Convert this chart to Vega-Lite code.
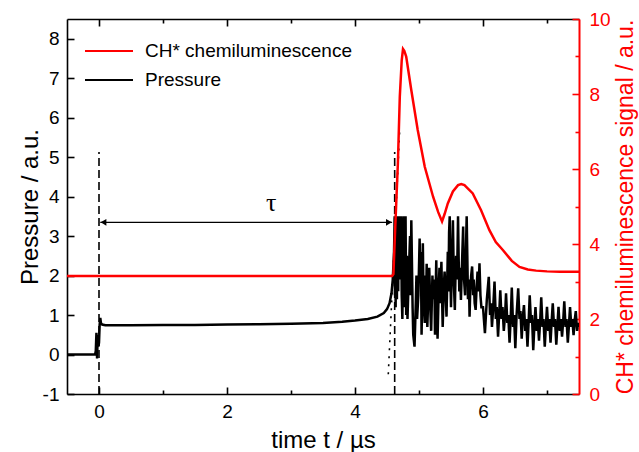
{
  "$schema": "https://vega.github.io/schema/vega-lite/v6.json",
  "width": 512,
  "height": 375,
  "autosize": {"type": "none"},
  "padding": {"left": 67, "top": 19, "right": 60, "bottom": 58},
  "background": "white",
  "config": {
    "font": "Liberation Sans",
    "view": {"stroke": null},
    "axis": {
      "labelFont": "Liberation Sans",
      "titleFont": "Liberation Sans",
      "labelFontSize": 19,
      "titleFontSize": 24,
      "titleFontWeight": "normal",
      "grid": false,
      "domainColor": "black",
      "domainWidth": 1.6,
      "labelColor": "black",
      "titleColor": "black",
      "labelFlush": false,
      "labelOverlap": false,
      "zindex": 1
    },
    "legend": {"labelFont": "Liberation Sans"}
  },
  "datasets": {
    "pressure": [
      {"t": -0.5, "p": 0}, {"t": -0.06, "p": 0}, {"t": -0.05, "p": 0.1}, {"t": -0.04, "p": 0.55}, {"t": -0.03, "p": -0.1},
      {"t": -0.02, "p": 0.5}, {"t": -0.01, "p": 0.2}, {"t": 0.0, "p": 0.3}, {"t": 0.01, "p": 0.75}, {"t": 0.02, "p": 0.93},
      {"t": 0.03, "p": 0.8}, {"t": 0.05, "p": 0.76}, {"t": 0.1, "p": 0.74}, {"t": 0.5, "p": 0.74}, {"t": 1.0, "p": 0.745},
      {"t": 1.5, "p": 0.75}, {"t": 2.0, "p": 0.76}, {"t": 2.5, "p": 0.77}, {"t": 3.0, "p": 0.78}, {"t": 3.5, "p": 0.8},
      {"t": 3.8, "p": 0.83}, {"t": 4.0, "p": 0.86}, {"t": 4.2, "p": 0.9}, {"t": 4.35, "p": 0.96}, {"t": 4.45, "p": 1.05},
      {"t": 4.5, "p": 1.15}, {"t": 4.54, "p": 1.3}, {"t": 4.57, "p": 1.55}, {"t": 4.59, "p": 1.9}, {"t": 4.61, "p": 2.6},
      {"t": 4.62, "p": 3.5}, {"t": 4.625, "p": 1.5}, {"t": 4.63, "p": 3.5}, {"t": 4.635, "p": 1.2}, {"t": 4.64, "p": 3.5},
      {"t": 4.645, "p": 1.8}, {"t": 4.65, "p": 3.5}, {"t": 4.655, "p": 1.4}, {"t": 4.66, "p": 3.5}, {"t": 4.665, "p": 2.0},
      {"t": 4.67, "p": 3.5}, {"t": 4.675, "p": 1.6}, {"t": 4.68, "p": 3.5}, {"t": 4.685, "p": 2.2}, {"t": 4.69, "p": 3.5},
      {"t": 4.695, "p": 1.9}, {"t": 4.7, "p": 3.5}, {"t": 4.705, "p": 2.5}, {"t": 4.71, "p": 3.5}, {"t": 4.715, "p": 2.1},
      {"t": 4.72, "p": 3.5}, {"t": 4.73, "p": 1.5}, {"t": 4.74, "p": 0.9}, {"t": 4.75, "p": 2.2}, {"t": 4.76, "p": 3.5},
      {"t": 4.77, "p": 2.0}, {"t": 4.78, "p": 1.2}, {"t": 4.79, "p": 3.5}, {"t": 4.8, "p": 1.0}, {"t": 4.81, "p": 2.5},
      {"t": 4.82, "p": 0.9}, {"t": 4.84, "p": 2.0}, {"t": 4.86, "p": 3.0}, {"t": 4.87, "p": 1.5}, {"t": 4.88, "p": 3.4},
      {"t": 4.9, "p": 1.2}, {"t": 4.91, "p": 0.5}, {"t": 4.93, "p": 0.2}, {"t": 4.95, "p": 1.3}, {"t": 4.96, "p": 2.0},
      {"t": 4.97, "p": 0.9}, {"t": 4.99, "p": 1.5}, {"t": 5.01, "p": 2.94}, {"t": 5.02, "p": 1.9}, {"t": 5.03, "p": 2.6},
      {"t": 5.04, "p": 0.5}, {"t": 5.05, "p": 1.4}, {"t": 5.06, "p": 2.82}, {"t": 5.07, "p": 1.5}, {"t": 5.09, "p": 0.8},
      {"t": 5.1, "p": 2.0}, {"t": 5.11, "p": 1.2}, {"t": 5.12, "p": 2.3}, {"t": 5.13, "p": 0.7}, {"t": 5.15, "p": 1.7},
      {"t": 5.16, "p": 2.2}, {"t": 5.18, "p": 1.0}, {"t": 5.19, "p": 0.6}, {"t": 5.21, "p": 2.0}, {"t": 5.22, "p": 1.4},
      {"t": 5.24, "p": 1.9}, {"t": 5.25, "p": 0.5}, {"t": 5.26, "p": 1.6}, {"t": 5.27, "p": 2.39}, {"t": 5.28, "p": 1.2},
      {"t": 5.29, "p": 0.4}, {"t": 5.31, "p": 1.8}, {"t": 5.32, "p": 2.2}, {"t": 5.33, "p": 1.3}, {"t": 5.35, "p": 2.35},
      {"t": 5.36, "p": 1.5}, {"t": 5.37, "p": 0.7}, {"t": 5.39, "p": 1.8}, {"t": 5.4, "p": 2.1}, {"t": 5.42, "p": 1.4},
      {"t": 5.43, "p": 0.96}, {"t": 5.45, "p": 2.6}, {"t": 5.46, "p": 1.6}, {"t": 5.47, "p": 3.1}, {"t": 5.48, "p": 3.5},
      {"t": 5.49, "p": 2.0}, {"t": 5.5, "p": 1.2}, {"t": 5.51, "p": 2.0}, {"t": 5.52, "p": 2.7}, {"t": 5.53, "p": 3.4},
      {"t": 5.545, "p": 1.8}, {"t": 5.56, "p": 1.13}, {"t": 5.57, "p": 2.0}, {"t": 5.58, "p": 2.5}, {"t": 5.595, "p": 1.9},
      {"t": 5.61, "p": 3.5}, {"t": 5.62, "p": 2.4}, {"t": 5.63, "p": 1.6}, {"t": 5.64, "p": 2.2}, {"t": 5.655, "p": 1.38},
      {"t": 5.67, "p": 2.2}, {"t": 5.69, "p": 3.24}, {"t": 5.7, "p": 2.0}, {"t": 5.72, "p": 1.5}, {"t": 5.73, "p": 2.4},
      {"t": 5.745, "p": 3.5}, {"t": 5.755, "p": 2.5}, {"t": 5.765, "p": 1.4}, {"t": 5.78, "p": 1.9}, {"t": 5.79, "p": 0.96},
      {"t": 5.8, "p": 1.6}, {"t": 5.815, "p": 2.0}, {"t": 5.83, "p": 2.23}, {"t": 5.845, "p": 1.5}, {"t": 5.855, "p": 1.9},
      {"t": 5.87, "p": 1.3}, {"t": 5.885, "p": 1.13}, {"t": 5.9, "p": 1.7}, {"t": 5.915, "p": 2.1}, {"t": 5.93, "p": 1.6},
      {"t": 5.945, "p": 2.31}, {"t": 5.96, "p": 1.5}, {"t": 5.975, "p": 1.2}, {"t": 6.0, "p": 1.2}, {"t": 6.03, "p": 0.54},
      {"t": 6.06, "p": 1.4}, {"t": 6.09, "p": 1.97}, {"t": 6.11, "p": 1.0}, {"t": 6.125, "p": 1.3}, {"t": 6.14, "p": 0.7},
      {"t": 6.16, "p": 1.2}, {"t": 6.18, "p": 1.85}, {"t": 6.2, "p": 0.9}, {"t": 6.215, "p": 1.2}, {"t": 6.235, "p": 0.45},
      {"t": 6.255, "p": 1.1}, {"t": 6.27, "p": 1.63}, {"t": 6.29, "p": 0.9}, {"t": 6.305, "p": 1.2}, {"t": 6.325, "p": 0.6},
      {"t": 6.345, "p": 1.0}, {"t": 6.36, "p": 1.55}, {"t": 6.38, "p": 0.8}, {"t": 6.395, "p": 1.0}, {"t": 6.415, "p": 0.3},
      {"t": 6.435, "p": 1.0}, {"t": 6.45, "p": 1.7}, {"t": 6.47, "p": 0.7}, {"t": 6.485, "p": 1.0}, {"t": 6.505, "p": 0.16},
      {"t": 6.525, "p": 1.0}, {"t": 6.55, "p": 1.68}, {"t": 6.57, "p": 0.9}, {"t": 6.585, "p": 1.1}, {"t": 6.605, "p": 0.4},
      {"t": 6.62, "p": 0.9}, {"t": 6.64, "p": 1.25}, {"t": 6.66, "p": 0.6}, {"t": 6.675, "p": 0.9}, {"t": 6.695, "p": 0.2},
      {"t": 6.715, "p": 0.9}, {"t": 6.73, "p": 1.5}, {"t": 6.75, "p": 0.8}, {"t": 6.765, "p": 1.0}, {"t": 6.785, "p": 0.11},
      {"t": 6.805, "p": 0.8}, {"t": 6.82, "p": 1.2}, {"t": 6.84, "p": 0.6}, {"t": 6.855, "p": 0.9}, {"t": 6.875, "p": 0.35},
      {"t": 6.895, "p": 0.9}, {"t": 6.91, "p": 1.45}, {"t": 6.93, "p": 0.7}, {"t": 6.945, "p": 0.9}, {"t": 6.965, "p": 0.2},
      {"t": 6.985, "p": 0.8}, {"t": 7.0, "p": 1.21}, {"t": 7.02, "p": 0.6}, {"t": 7.035, "p": 0.9}, {"t": 7.055, "p": 0.3},
      {"t": 7.075, "p": 0.9}, {"t": 7.09, "p": 1.3}, {"t": 7.11, "p": 0.7}, {"t": 7.125, "p": 0.9}, {"t": 7.145, "p": 0.25},
      {"t": 7.165, "p": 0.8}, {"t": 7.18, "p": 1.21}, {"t": 7.2, "p": 0.6}, {"t": 7.215, "p": 0.9}, {"t": 7.235, "p": 0.45},
      {"t": 7.255, "p": 0.9}, {"t": 7.27, "p": 1.35}, {"t": 7.29, "p": 0.7}, {"t": 7.305, "p": 0.9}, {"t": 7.325, "p": 0.3},
      {"t": 7.345, "p": 0.8}, {"t": 7.36, "p": 1.2}, {"t": 7.38, "p": 0.7}, {"t": 7.395, "p": 0.9}, {"t": 7.415, "p": 0.49},
      {"t": 7.435, "p": 0.9}, {"t": 7.45, "p": 1.1}, {"t": 7.47, "p": 0.6}, {"t": 7.485, "p": 0.8}, {"t": 7.5, "p": 0.7}
    ],
    "ch": [
      {"t": -0.5, "c": 3.15}, {"t": 4.58, "c": 3.15}, {"t": 4.6, "c": 3.2}, {"t": 4.63, "c": 4.5}, {"t": 4.67, "c": 6.15},
      {"t": 4.7, "c": 7.93}, {"t": 4.73, "c": 8.9}, {"t": 4.75, "c": 9.2}, {"t": 4.77, "c": 9.15}, {"t": 4.8, "c": 9.0},
      {"t": 4.88, "c": 8.1}, {"t": 4.98, "c": 7.04}, {"t": 5.09, "c": 6.06}, {"t": 5.22, "c": 5.26}, {"t": 5.3, "c": 4.85},
      {"t": 5.36, "c": 4.6}, {"t": 5.4, "c": 4.8}, {"t": 5.45, "c": 5.08}, {"t": 5.53, "c": 5.4}, {"t": 5.61, "c": 5.57},
      {"t": 5.66, "c": 5.6}, {"t": 5.71, "c": 5.57}, {"t": 5.84, "c": 5.35}, {"t": 5.97, "c": 4.9}, {"t": 6.1, "c": 4.37},
      {"t": 6.2, "c": 4.05}, {"t": 6.31, "c": 3.84}, {"t": 6.45, "c": 3.55}, {"t": 6.57, "c": 3.39}, {"t": 6.7, "c": 3.32},
      {"t": 6.83, "c": 3.29}, {"t": 7.0, "c": 3.27}, {"t": 7.2, "c": 3.26}, {"t": 7.5, "c": 3.26}
    ],
    "dashes": [
      {"t": 0, "p": -1, "p2": 5.13},
      {"t": 4.62, "p": -1, "p2": 5.13}
    ],
    "dotted": [
      {"t": 4.52, "t2": 4.7, "p": -0.5, "p2": 5.75}
    ],
    "arrow": [
      {"t": 0.02, "t2": 4.58, "p": 3.35}
    ],
    "heads": [
      {"t": 0.07, "p": 3.35, "shape": "triangle-left"},
      {"t": 4.53, "p": 3.35, "shape": "triangle-right"}
    ],
    "tau": [
      {"t": 2.69, "p": 3.85, "label": "τ"}
    ]
  },
  "layer": [
    {
      "layer": [
        {
          "data": {"name": "pressure"},
          "mark": {"type": "line", "strokeWidth": 2.5, "clip": true},
          "encoding": {
            "x": {
              "field": "t", "type": "quantitative",
              "scale": {"domain": [-0.5, 7.5], "nice": false, "zero": false},
              "axis": {
                "orient": "bottom",
                "title": "time t / µs",
                "values": [0, 1, 2, 3, 4, 5, 6, 7],
                "labelExpr": "datum.value % 2 == 0 ? '' + datum.value : ''",
                "ticks": true,
                "tickColor": "black",
                "tickWidth": 1.6,
                "tickOpacity": 1,
                "tickSize": {"condition": {"test": "datum.value % 2 == 0", "value": -7}, "value": -4},
                "labelPadding": 15,
                "titlePadding": 4
              }
            },
            "y": {
              "field": "p", "type": "quantitative",
              "scale": {"domain": [-1, 8.5], "nice": false, "zero": false},
              "axis": {
                "orient": "left",
                "title": "Pressure / a.u.",
                "values": [-1, -0.5, 0, 0.5, 1, 1.5, 2, 2.5, 3, 3.5, 4, 4.5, 5, 5.5, 6, 6.5, 7, 7.5, 8],
                "labelExpr": "datum.value % 1 == 0 ? '' + datum.value : ''",
                "ticks": true,
                "tickColor": "black",
                "tickWidth": 1.6,
                "tickOpacity": 1,
                "tickSize": {"condition": {"test": "datum.value % 1 == 0", "value": -7}, "value": -4},
                "labelPadding": 15,
                "titlePadding": 0
              }
            },
            "color": {
              "datum": "Pressure", "type": "nominal",
              "scale": {"domain": ["CH* chemiluminescence", "Pressure"], "range": ["#ff0000", "#000000"]},
              "legend": {
                "title": null,
                "orient": "none",
                "legendX": 17,
                "legendY": 22,
                "padding": 0,
                "symbolType": "stroke",
                "symbolSize": 2304,
                "symbolStrokeWidth": 2,
                "clipHeight": 20,
                "rowPadding": 9,
                "labelFontSize": 19,
                "labelOffset": 11,
                "labelLimit": 0,
                "labelColor": "black"
              }
            }
          }
        },
        {
          "data": {"name": "dashes"},
          "mark": {"type": "rule", "strokeDash": [8, 4], "strokeWidth": 1.6, "color": "black"},
          "encoding": {
            "x": {"field": "t", "type": "quantitative"},
            "y": {"field": "p", "type": "quantitative"},
            "y2": {"field": "p2"}
          }
        },
        {
          "data": {"name": "dotted"},
          "mark": {"type": "rule", "strokeDash": [2, 6], "strokeWidth": 1.6, "color": "black"},
          "encoding": {
            "x": {"field": "t", "type": "quantitative"},
            "x2": {"field": "t2"},
            "y": {"field": "p", "type": "quantitative"},
            "y2": {"field": "p2"}
          }
        },
        {
          "data": {"name": "arrow"},
          "mark": {"type": "rule", "strokeWidth": 1.2, "color": "black"},
          "encoding": {
            "x": {"field": "t", "type": "quantitative"},
            "x2": {"field": "t2"},
            "y": {"field": "p", "type": "quantitative"}
          }
        },
        {
          "data": {"name": "heads"},
          "mark": {"type": "point", "filled": true, "size": 45, "color": "black", "opacity": 1},
          "encoding": {
            "x": {"field": "t", "type": "quantitative"},
            "y": {"field": "p", "type": "quantitative"},
            "shape": {"field": "shape", "type": "nominal", "scale": null, "legend": null}
          }
        },
        {
          "data": {"name": "tau"},
          "mark": {"type": "text", "font": "Liberation Serif", "fontSize": 26, "color": "black"},
          "encoding": {
            "x": {"field": "t", "type": "quantitative"},
            "y": {"field": "p", "type": "quantitative"},
            "text": {"field": "label"}
          }
        }
      ]
    },
    {
      "data": {"name": "ch"},
      "mark": {"type": "line", "strokeWidth": 2.5, "clip": true},
      "encoding": {
        "x": {
          "field": "t", "type": "quantitative",
          "scale": {"domain": [-0.5, 7.5], "nice": false, "zero": false},
          "axis": {
            "orient": "top",
            "title": null,
            "labels": false,
            "values": [0, 1, 2, 3, 4, 5, 6, 7],
            "ticks": true,
            "tickColor": "black",
            "tickWidth": 1.6,
            "tickOpacity": 1,
            "tickSize": {"condition": {"test": "datum.value % 2 == 0", "value": -7}, "value": -4}
          }
        },
        "y": {
          "field": "c", "type": "quantitative",
          "scale": {"domain": [0, 10], "nice": false, "zero": false},
          "axis": {
            "orient": "right",
            "title": "CH* chemiluminescence signal / a.u.",
            "titleAngle": 270,
            "titleFontSize": 23,
            "values": [0, 1, 2, 3, 4, 5, 6, 7, 8, 9, 10],
            "labelExpr": "datum.value % 2 == 0 ? '' + datum.value : ''",
            "ticks": true,
            "tickWidth": 1.6,
            "tickOpacity": 1,
            "tickSize": {"condition": {"test": "datum.value % 2 == 0", "value": -7}, "value": -4},
            "labelPadding": 17,
            "titlePadding": 27,
            "domainColor": "#ff0000",
            "domainWidth": 2,
            "tickColor": "#ff0000",
            "labelColor": "#ff0000",
            "titleColor": "#ff0000"
          }
        },
        "color": {"datum": "CH* chemiluminescence", "type": "nominal"}
      }
    }
  ],
  "resolve": {
    "scale": {"y": "independent", "x": "independent"},
    "axis": {"x": "independent", "y": "independent"}
  }
}
